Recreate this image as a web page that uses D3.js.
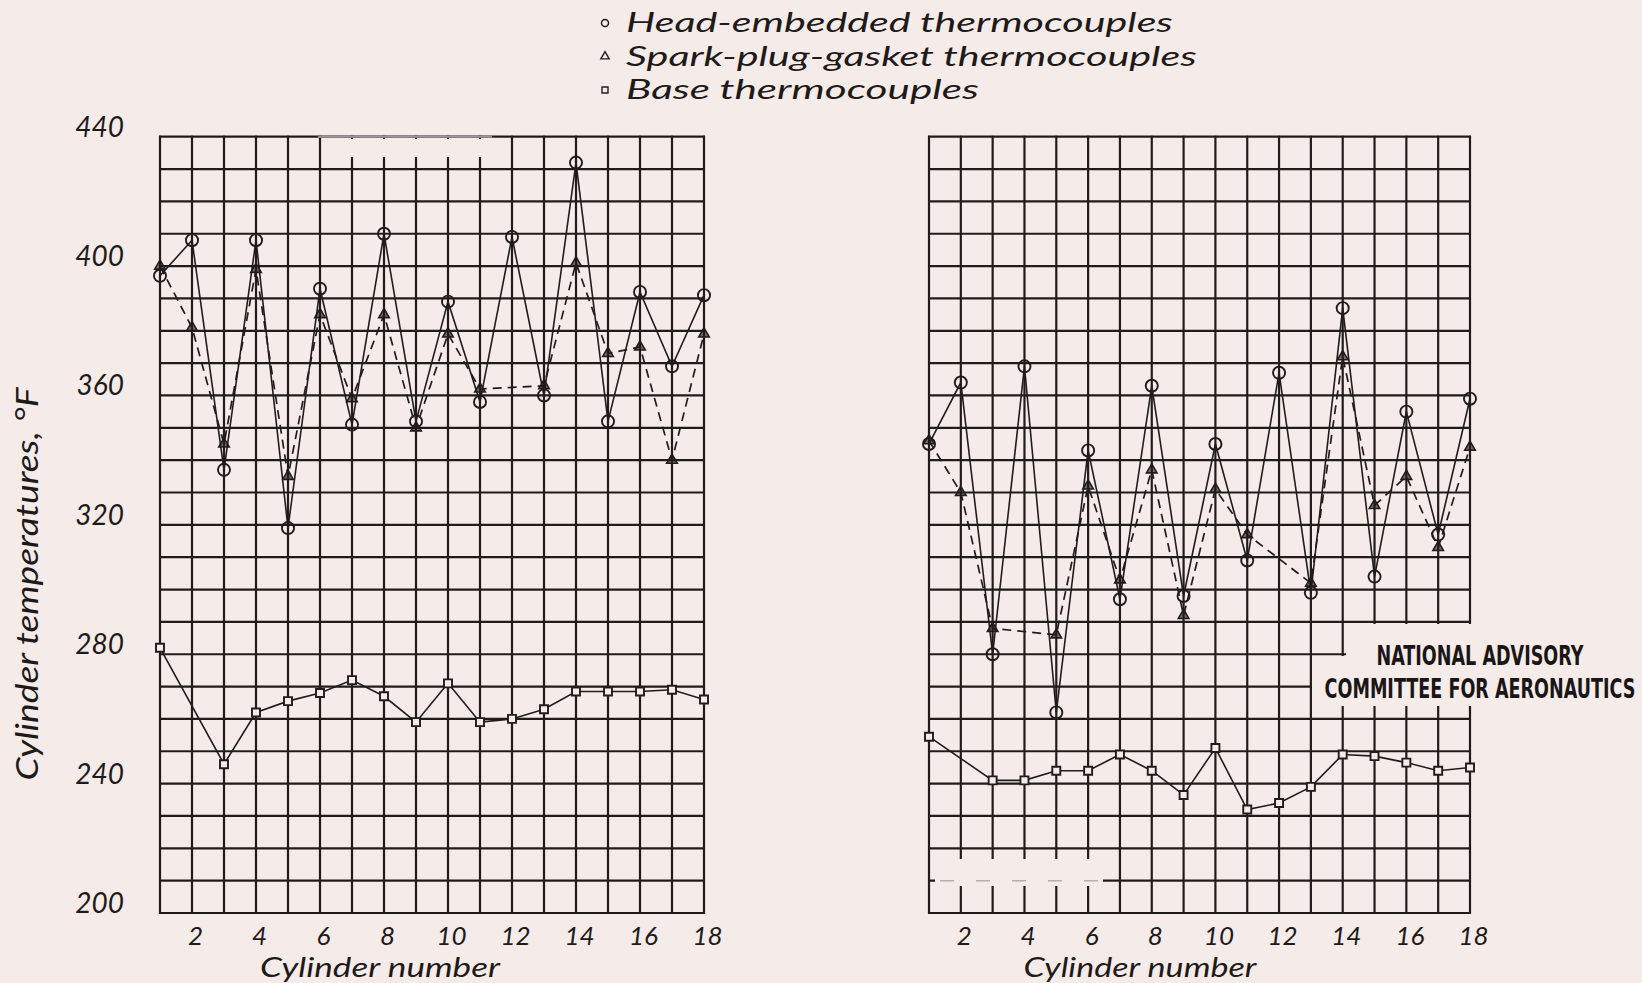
<!DOCTYPE html>
<html>
<head>
<meta charset="utf-8">
<script src="https://cdn.jsdelivr.net/npm/d3@7"></script>
<style>
  body { margin: 0; background: #f5ebe8; }
  svg { display: block; }
  .hand { font-family: Lato, "Open Sans", "DejaVu Sans", sans-serif; font-style: italic; font-weight: 400; fill: #1f1a1a; }
  .stamp { font-family: "Liberation Sans Narrow", "DejaVu Sans Condensed", "Liberation Sans", sans-serif; font-weight: bold; fill: #1a1616; }
</style>
</head>
<body>
<svg id="chart" width="1642" height="983"></svg>
<script>
// cylinder numbers and tick labels
const cylinders = [1, 2, 3, 4, 5, 6, 7, 8, 9, 10, 11, 12, 13, 14, 15, 16, 17, 18];
const xTicks = [2, 4, 6, 8, 10, 12, 14, 16, 18];
const yTicks = [200, 240, 280, 320, 360, 400, 440];
const yGrid = [200, 210, 220, 230, 240, 250, 260, 270, 280, 290, 300, 310, 320,
               330, 340, 350, 360, 370, 380, 390, 400, 410, 420, 430, 440];

// left panel, deg F (null = no reading for that cylinder)
const headLeft  = [397, 408, 337, 408, 319, 393, 351, 410, 352, 389, 358, 409, 360, 432, 352, 392, 369, 391];
const sparkLeft = [400, 381, 345, 399, 335, 385, 359, 385, 350, 379, 362, null, 363, 401, 373, 375, 340, 379];
const baseLeft  = [282, null, 246, 262, 265.5, 268, 272, 267, 259, 271, 259, 260, 263, 268.5, 268.5, 268.5, 269, 266];

// right panel
const headRight  = [345, 364, 280, 369, 262, 343, 297, 363, 298, 345, 309, 367, 299, 387, 304, 355, 317, 359];
const sparkRight = [346, 330, 288, null, 286, 332, 303, 337, 292, 331, 317, null, 302, 372, 326, 335, 313, 344];
const baseRight  = [254.5, null, 241, 241, 244, 244, 249, 244, 236.5, 251, 232, 234, 239, 249, 248.5, 246.5, 244, 245];

const legendLabels = ["Head-embedded thermocouples", "Spark-plug-gasket thermocouples", "Base thermocouples"];
const stampLines = ["NATIONAL ADVISORY", "COMMITTEE FOR AERONAUTICS"];

const paper = "#f5ebe8";
const ink = "#211c1c";

const svg = d3.select("#chart");
svg.append("rect").attr("width", 1642).attr("height", 983).attr("fill", paper);

const y = d3.scaleLinear().domain([200, 440]).range([913, 136.7]);
const xL = d3.scaleLinear().domain([1, 18]).range([160, 704]);
const xR = d3.scaleLinear().domain([1, 18]).range([929, 1470]);

const symCircle = d3.symbol().type(d3.symbolCircle).size(115);
const symTri = d3.symbol().type(d3.symbolTriangle).size(48);
const symSquare = d3.symbol().type(d3.symbolSquare).size(64);

// squeeze a text horizontally to a given width (keeps its box honest)
function fitWidth(sel, width) {
    sel.each(function() {
        const len = this.getComputedTextLength();
        const t = d3.select(this);
        const base = t.attr("transform") || "";
        t.attr("transform", base + ` scale(${width / len},1)`);
    });
}

function drawPanel(x, head, spark, base) {
    const g = svg.append("g");

    // graph paper
    g.append("g").selectAll("line")
        .data(cylinders)
        .join("line")
        .attr("x1", d => x(d)).attr("x2", d => x(d))
        .attr("y1", y(200) + 1).attr("y2", y(440) - 1)
        .attr("stroke", ink).attr("stroke-width", 2.2);

    g.append("g").selectAll("line")
        .data(yGrid)
        .join("line")
        .attr("x1", x(1) - 1).attr("x2", x(18) + 1)
        .attr("y1", d => y(d)).attr("y2", d => y(d))
        .attr("stroke", ink).attr("stroke-width", 2.2);

    const pts = vals => cylinders.map((c, i) => ({c: c, v: vals[i]})).filter(d => d.v != null);
    const line = d3.line().x(d => x(d.c)).y(d => y(d.v));

    g.append("path").datum(pts(spark)).attr("d", line)
        .attr("fill", "none").attr("stroke", ink).attr("stroke-width", 1.7)
        .attr("stroke-dasharray", "9,6");
    g.append("path").datum(pts(head)).attr("d", line)
        .attr("fill", "none").attr("stroke", ink).attr("stroke-width", 1.6);
    g.append("path").datum(pts(base)).attr("d", line)
        .attr("fill", "none").attr("stroke", ink).attr("stroke-width", 1.6);

    g.append("g").selectAll("path")
        .data(pts(spark))
        .join("path")
        .attr("transform", d => `translate(${x(d.c)},${y(d.v)})`)
        .attr("d", symTri)
        .attr("fill", ink).attr("fill-opacity", 0.6)
        .attr("stroke", ink).attr("stroke-width", 1.6);

    g.append("g").selectAll("path")
        .data(pts(head))
        .join("path")
        .attr("transform", d => `translate(${x(d.c)},${y(d.v)})`)
        .attr("d", symCircle)
        .attr("fill", "none")
        .attr("stroke", ink).attr("stroke-width", 1.9);

    g.append("g").selectAll("path")
        .data(pts(base))
        .join("path")
        .attr("transform", d => `translate(${x(d.c)},${y(d.v)})`)
        .attr("d", symSquare)
        .attr("fill", paper)
        .attr("stroke", ink).attr("stroke-width", 1.9);

    // x axis labels
    const ax = g.append("g")
        .attr("transform", `translate(3,${y(200)})`)
        .call(d3.axisBottom(x).tickValues(xTicks).tickSize(0).tickPadding(13.5));
    ax.select(".domain").remove();
    ax.attr("font-family", null).attr("font-size", null);
    ax.selectAll("text")
        .attr("class", "hand")
        .attr("font-size", 26);

    return g;
}

drawPanel(xL, headLeft, sparkLeft, baseLeft);
drawPanel(xR, headRight, sparkRight, baseRight);

// worn patches on the paper
svg.append("rect").attr("x", 322).attr("y", 139).attr("width", 168).attr("height", 18).attr("fill", paper);
svg.append("line").attr("x1", 318).attr("x2", 492).attr("y1", y(440)).attr("y2", y(440))
    .attr("stroke", "#a0969a").attr("stroke-width", 2);
svg.append("rect").attr("x", 935).attr("y", 859).attr("width", 168).attr("height", 27).attr("fill", paper);
svg.append("line").attr("x1", 940).attr("x2", 1100).attr("y1", y(210)).attr("y2", y(210))
    .attr("stroke", "#b8aeae").attr("stroke-width", 1.5).attr("stroke-dasharray", "14,22");

// y axis on the left panel
const ay = svg.append("g")
    .attr("transform", `translate(${xL(1)},0)`)
    .call(d3.axisLeft(y).tickValues(yTicks).tickSize(0).tickPadding(36));
ay.select(".domain").remove();
ay.attr("font-family", null).attr("font-size", null);
ay.selectAll("text")
    .attr("class", "hand")
    .attr("font-size", 28)
    .attr("dy", "-0.02em");

// axis titles
svg.append("text").attr("class", "hand")
    .attr("transform", "translate(380,977)")
    .attr("text-anchor", "middle").attr("font-size", 27)
    .text("Cylinder number")
    .call(fitWidth, 240);
svg.append("text").attr("class", "hand")
    .attr("transform", "translate(1140,977)")
    .attr("text-anchor", "middle").attr("font-size", 27)
    .text("Cylinder number")
    .call(fitWidth, 233);
svg.append("text").attr("class", "hand")
    .attr("transform", "translate(38,584) rotate(-90)")
    .attr("text-anchor", "middle").attr("font-size", 30)
    .text("Cylinder temperatures, \u00B0F")
    .call(fitWidth, 393);

// legend
const legendY = [23, 56.5, 90];
const legendBase = [32, 65.5, 98.5];
const legendLen = [547, 571, 353];
const legendSym = [d3.symbol().type(d3.symbolCircle).size(40),
                   d3.symbol().type(d3.symbolTriangle).size(30),
                   d3.symbol().type(d3.symbolSquare).size(36)];
const leg = svg.append("g");
leg.selectAll("path")
    .data(legendLabels)
    .join("path")
    .attr("transform", (d, i) => `translate(605,${legendY[i]})`)
    .attr("d", (d, i) => legendSym[i]())
    .attr("fill", "none").attr("stroke", ink).attr("stroke-width", 1.4);
leg.selectAll("text")
    .data(legendLabels)
    .join("text")
    .attr("class", "hand")
    .attr("transform", (d, i) => `translate(626,${legendBase[i]})`)
    .attr("font-size", 27)
    .text(d => d)
    .each(function(d, i) { fitWidth(d3.select(this), legendLen[i]); });

// NACA stamp cuts the grid
svg.append("polygon")
    .attr("points", "1346,624 1642,624 1642,706 1312,706 1312,656 1346,656")
    .attr("fill", paper);
svg.selectAll(".stamp")
    .data(stampLines)
    .join("text")
    .attr("class", "stamp")
    .attr("transform", (d, i) => `translate(1480,${[665, 698][i]})`)
    .attr("text-anchor", "middle")
    .attr("font-size", 26)
    .text(d => d)
    .each(function(d, i) { fitWidth(d3.select(this), [207, 311][i]); });
</script>
</body>
</html>
